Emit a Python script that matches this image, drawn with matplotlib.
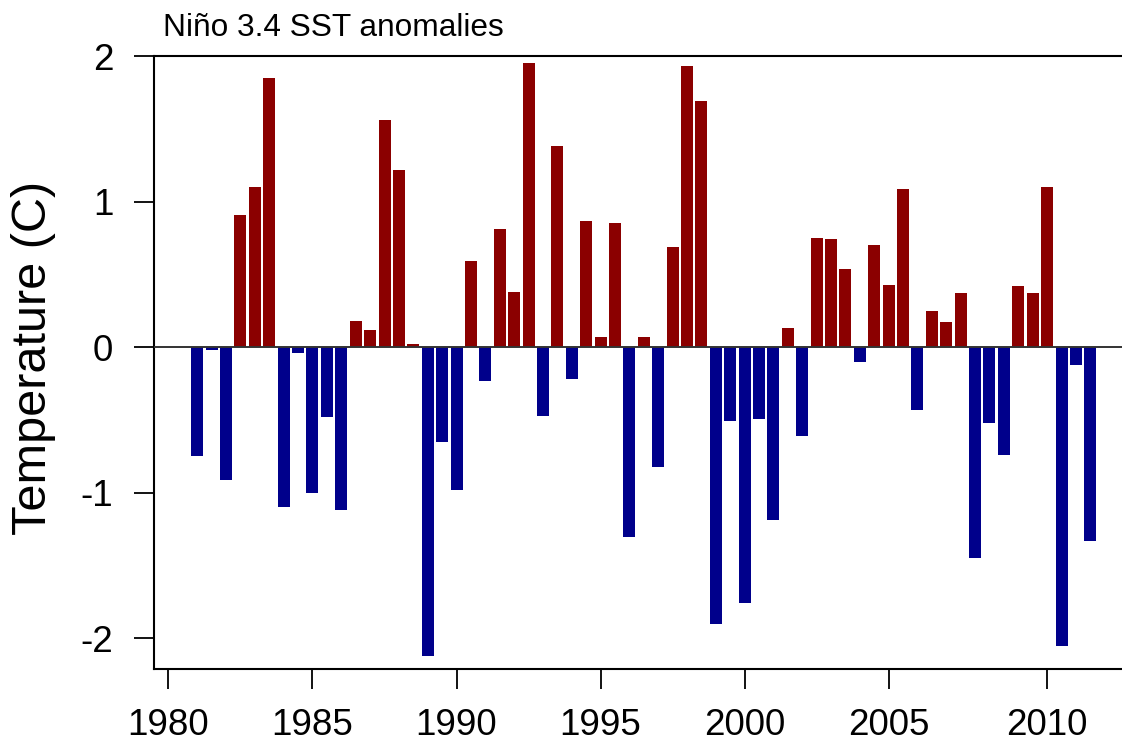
#!/usr/bin/env python

import numpy as np
import matplotlib
matplotlib.use('Agg')
import matplotlib.pyplot as plt

plt.rcParams['font.family'] = ['Liberation Sans', 'DejaVu Sans']

# half-yearly Nino 3.4 anomalies, starting 1981
anom = [-0.75, -0.02, -0.91, 0.91, 1.10, 1.85, -1.10, -0.04, -1.00, -0.48,
        -1.12, 0.18, 0.12, 1.56, 1.22, 0.02, -2.12, -0.65, -0.98, 0.59,
        -0.23, 0.81, 0.38, 1.95, -0.47, 1.38, -0.22, 0.87, 0.07, 0.85,
        -1.30, 0.07, -0.82, 0.69, 1.93, 1.69, -1.90, -0.51, -1.76, -0.49,
        -1.19, 0.13, -0.61, 0.75, 0.74, 0.54, -0.10, 0.70, 0.43, 1.09,
        -0.43, 0.25, 0.17, 0.37, -1.45, -0.52, -0.74, 0.42, 0.37, 1.10,
        -2.05, -0.12, -1.33]

tick_years = [1980, 1985, 1990, 1995, 2000, 2005, 2010]
tick_bar = [-2, 8, 18, 28, 38, 48, 59]   # bar slot where each year label sits

RED = '#8B0000'
BLUE = '#00008B'


def main():
    vals = np.array(anom)
    x = np.arange(len(vals))
    cols = np.where(vals >= 0, RED, BLUE)

    fig = plt.figure(figsize=(11.22, 7.44), dpi=100)
    ax = fig.add_axes([0.1373, 0.1008, 0.8627, 0.8239])

    ax.bar(x, vals, width=0.833, color=cols, edgecolor='none', zorder=2)
    ax.axhline(0, color='#333333', lw=1.4, zorder=3)

    ax.set_xlim(-3.0, 64.2)
    ax.set_ylim(-2.21, 2.0)

    ax.set_yticks([-2, -1, 0, 1, 2])
    ax.set_yticklabels(['-2', '-1', '0', '1', '2'])
    ax.set_xticks(tick_bar)
    ax.set_xticklabels([str(y) for y in tick_years])

    ax.tick_params(axis='both', direction='out', length=14.4, width=1.3,
                   labelsize=26.5, pad=15)
    ax.tick_params(axis='x', pad=14)

    for s in ['left', 'bottom', 'top']:
        ax.spines[s].set_linewidth(1.5)
    ax.spines['right'].set_visible(False)

    fig.text(0.145, 0.952, 'Niño 3.4 SST anomalies', fontsize=22.8, va='baseline', ha='left')
    fig.text(0.030, 0.519, 'Temperature (C)', fontsize=35, rotation=90,
             va='center', ha='center')

    fig.savefig('out.png', dpi=100)


if __name__ == '__main__':
    main()
